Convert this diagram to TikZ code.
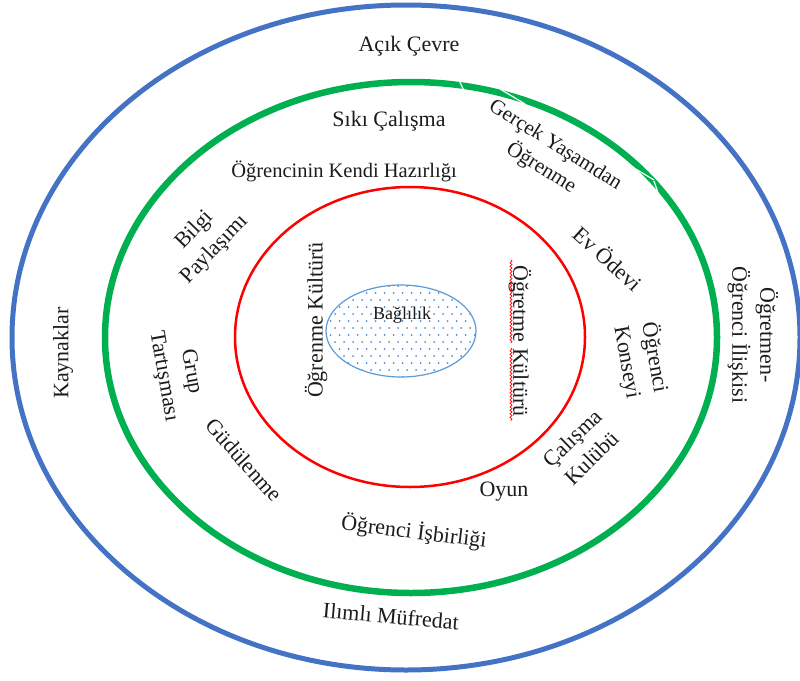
\documentclass[tikz,border=0pt]{standalone}
\usepackage{fontspec}
\setmainfont{Liberation Serif}
\usetikzlibrary{decorations.pathmorphing}
\definecolor{ringblue}{HTML}{4472C4}
\definecolor{ringgreen}{HTML}{00B050}
\definecolor{ringred}{HTML}{FF0000}
\definecolor{coreblue}{HTML}{5B9BD5}
\definecolor{dotblue}{HTML}{4A8FD8}
\definecolor{ink}{HTML}{1C1C1C}
\begin{document}
\begin{tikzpicture}[x=1pt,y=-1pt,
  lbl/.style={text=ink, inner sep=0pt, align=center,
              font=\fontsize{22}{28}\selectfont},
  smalllbl/.style={lbl, font=\fontsize{20.5}{26}\selectfont},
  corelbl/.style={lbl, font=\fontsize{18}{22}\selectfont},
  ring/.style={line width=#1},
  gapline/.style={white, line width=1.2pt},
  spell/.style={ringred, line width=0.7pt,
                decorate, decoration={snake, amplitude=1pt, segment length=3.5pt}}]
\useasboundingbox (0,0) rectangle (800,680);
\fill[white] (0,0) rectangle (800,680);

% concentric rings
\draw[ringblue, ring=5pt]   (406,337.5) ellipse [x radius=394pt, y radius=332.5pt];
\draw[ringgreen, ring=6.5pt] (411,337.5) ellipse [x radius=306pt, y radius=255.5pt];
\draw[ringred, ring=2.5pt]  (410,337)   ellipse [x radius=175pt, y radius=150pt];

% small breaks in the green ring
\draw[gapline] (459,80) -- (464,91);
\draw[gapline] (500,89) -- (525,104);
\draw[gapline] (629,165) -- (654,180);
\draw[gapline] (654,181) -- (659,196);

% dotted core
\begin{scope}
  \clip (401,331) ellipse [x radius=75pt, y radius=46pt];
  \foreach \j in {0,...,14} {
    \foreach \i in {0,...,17} {
      \fill[dotblue] ({326+\i*9+mod(\j,2)*4.5},{286+\j*7}) circle (1pt);
    }
  }
\end{scope}
\draw[coreblue, line width=1.2pt] (401,331) ellipse [x radius=75pt, y radius=46pt];

% outer ring labels
\node[lbl] (acik)     at (409,46)  {Açık Çevre};
\node[lbl, rotate=90]  (kaynak)   at (63,353)  {Kaynaklar};
\node[lbl, rotate=-90] (ogretmen) at (753,335) {Öğretmen-\\Öğrenci İlişkisi};
\node[lbl, rotate=-5]  (ilimli)   at (391,616) {Ilımlı Müfredat};

% middle ring labels
\node[lbl] (siki) at (389,121) {Sıkı Çalışma};
\node[smalllbl] (hazir) at (344,171) {Öğrencinin Kendi Hazırlığı};
\node[lbl, rotate=-32, font=\fontsize{21}{27}\selectfont] (gercek) at (548,157) {Gerçek Yaşamdan\\Öğrenme};
\node[lbl, rotate=46]  (bilgi)   at (205,240) {Bilgi\\Paylaşımı};
\node[lbl, rotate=-80] (grup)    at (177,374) {Grup\\Tartışması};
\node[lbl, rotate=-48] (gudu)    at (244,460) {Güdülenme};
\node[lbl, rotate=-42] (ev)      at (608,258) {Ev Ödevi};
\node[lbl, rotate=-80] (konsey)  at (641,360) {Öğrenci\\Konseyi};
\node[lbl, rotate=44]  (calisma) at (582,448) {Çalışma\\Kulübü};
\node[lbl] (oyun) at (504,492) {Oyun};
\node[lbl, rotate=-7]  (isbir)   at (414,532) {Öğrenci İşbirliği};

% inner ring labels
\node[lbl, rotate=90]  (ogrk)   at (316,320) {Öğrenme Kültürü};
\node[lbl, rotate=-90] (ogretk) at (520,341) {Öğretme Kültürü};
\coordinate (w1a) at (511,260);
\coordinate (w1b) at (511,343);
\coordinate (w2a) at (511,348);
\coordinate (w2b) at (511,421);
\draw[spell] (w1a) -- (w1b);
\draw[spell] (w2a) -- (w2b);

% core label
\node[corelbl] (bag) at (402,315) {Bağlılık};
\end{tikzpicture}
\end{document}
